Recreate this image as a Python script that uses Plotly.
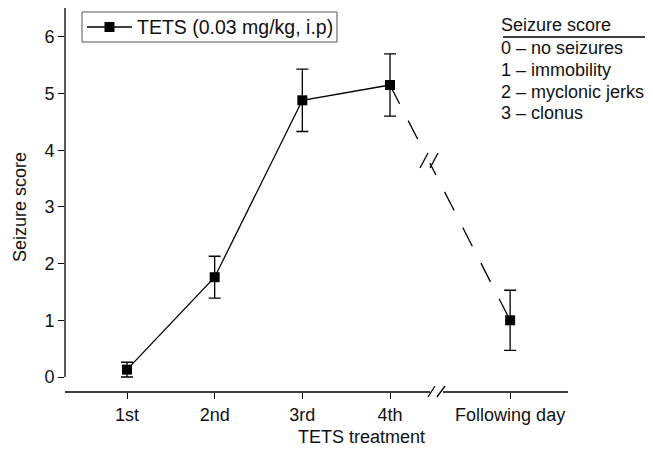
import plotly.graph_objects as go

# ---- data ----
treatments = ["1st", "2nd", "3rd", "4th", "Following day"]
score_mean = [0.13, 1.76, 4.88, 5.15, 1.0]
score_sem = [0.13, 0.37, 0.55, 0.55, 0.53]
y_ticks = [0, 1, 2, 3, 4, 5, 6]
legend_name = "TETS (0.03 mg/kg, i.p)"
score_key_title = "Seizure score"
score_key = ["0 \u2013 no seizures", "1 \u2013 immobility", "2 \u2013 myclonic jerks", "3 \u2013 clonus"]

# ---- layout geometry (all px values below are page pixels; the page body adds an 8px offset) ----
OFF = 8
W, H = 653 - OFF, 453 - OFF
PLOT_L, PLOT_R, PLOT_T, PLOT_B = 65, 568, 8, 392   # page px of the plotting area
ML, MR, MT, MB = PLOT_L - OFF, (W + OFF) - PLOT_R, PLOT_T - OFF, (H + OFF) - PLOT_B
PW, PH = PLOT_R - PLOT_L, PLOT_B - PLOT_T
UX = 87.67   # px per category step
UY = 56.7    # px per score unit
X0_PX, Y0_PX = 127, 377  # page px of first category / score 0
XR = [(PLOT_L - X0_PX) / UX, (PLOT_R - X0_PX) / UX]
YR = [(Y0_PX - PLOT_B) / UY, (Y0_PX - PLOT_T) / UY]
BREAK_GAP = 0.37  # extra spacing after the axis break

xpos = [i + (BREAK_GAP if i == len(treatments) - 1 else 0) for i in range(len(treatments))]

def px2x(px):
    return XR[0] + (px - PLOT_L) / PW * (XR[1] - XR[0])

def py2y(py):
    return YR[0] + (PLOT_B - py) / PH * (YR[1] - YR[0])

def px2paper(px):
    return (px - PLOT_L) / PW

def py2paper(py):
    return (PLOT_B - py) / PH

BLACK = "#000000"
TXT = "#111111"
FONT = "Liberation Sans, Arial, sans-serif"
LW = 1.3

fig = go.Figure()

# dashed segment 4th -> following day
fig.add_trace(go.Scatter(
    x=xpos[3:], y=score_mean[3:], mode="lines",
    line=dict(color=BLACK, width=LW, dash="21px,19px"),
    showlegend=False, hoverinfo="skip"))

# solid series with error bars
fig.add_trace(go.Scatter(
    x=xpos[:4], y=score_mean[:4], mode="lines+markers",
    name=legend_name, showlegend=False,
    line=dict(color=BLACK, width=LW),
    marker=dict(symbol="square", size=10, color=BLACK),
    error_y=dict(type="data", array=score_sem[:4], color=BLACK, thickness=LW, width=6)))

# following day point
fig.add_trace(go.Scatter(
    x=xpos[4:], y=score_mean[4:], mode="markers",
    marker=dict(symbol="square", size=10, color=BLACK),
    error_y=dict(type="data", array=score_sem[4:], color=BLACK, thickness=LW, width=6),
    showlegend=False))

shapes = []
# y axis line (stops at 0)
shapes.append(dict(type="line", xref="paper", yref="y", x0=0, x1=0, y0=0, y1=YR[1],
                   line=dict(color=BLACK, width=LW)))
# x axis line with break
shapes.append(dict(type="line", xref="paper", yref="paper", x0=0, x1=px2paper(430), y0=0, y1=0,
                   line=dict(color=BLACK, width=LW)))
shapes.append(dict(type="line", xref="paper", yref="paper", x0=px2paper(443), x1=1, y0=0, y1=0,
                   line=dict(color=BLACK, width=LW)))
for (ax0, ay0, ax1, ay1) in [(428, 397, 435, 386), (437, 397, 445, 386)]:
    shapes.append(dict(type="line", xref="paper", yref="paper",
                       x0=px2paper(ax0), y0=py2paper(ay0), x1=px2paper(ax1), y1=py2paper(ay1),
                       line=dict(color=BLACK, width=LW)))
# gap in dashed line + break marks
shapes.append(dict(type="line", xref="x", yref="y",
                   x0=px2x(423), y0=py2y(148), x1=px2x(430), y1=py2y(163),
                   line=dict(color="white", width=5)))
for (bx0, by0, bx1, by1) in [(420, 168, 428, 153), (430, 168, 438, 153)]:
    shapes.append(dict(type="line", xref="x", yref="y",
                       x0=px2x(bx0), y0=py2y(by0), x1=px2x(bx1), y1=py2y(by1),
                       line=dict(color=BLACK, width=LW)))
# underline of score key title
shapes.append(dict(type="line", xref="paper", yref="paper",
                   x0=px2paper(503), x1=px2paper(661), y0=py2paper(37), y1=py2paper(37),
                   line=dict(color=BLACK, width=LW)))

# legend (drawn as a boxed key)
shapes.append(dict(type="rect", xref="paper", yref="paper",
                   x0=px2paper(82), x1=px2paper(337), y0=py2paper(42), y1=py2paper(12),
                   line=dict(color="#555555", width=1), fillcolor="white", layer="above"))
shapes.append(dict(type="line", xref="paper", yref="paper",
                   x0=px2paper(87), x1=px2paper(132), y0=py2paper(27), y1=py2paper(27),
                   line=dict(color=BLACK, width=LW)))
shapes.append(dict(type="rect", xref="paper", yref="paper",
                   x0=px2paper(104.5), x1=px2paper(114.5), y0=py2paper(32), y1=py2paper(22),
                   line=dict(color=BLACK, width=0), fillcolor=BLACK))

annotations = []
annotations.append(dict(text=legend_name, xref="paper", yref="paper",
                        x=px2paper(135), y=py2paper(27), showarrow=False,
                        font=dict(family=FONT, size=19.5, color=TXT), xanchor="left", yanchor="middle"))
annotations.append(dict(text="Seizure score", xref="paper", yref="paper",
                        x=px2paper(20), y=py2paper(207), textangle=-90, showarrow=False,
                        font=dict(family=FONT, size=18, color=TXT), xanchor="center", yanchor="middle"))
annotations.append(dict(text="TETS treatment", xref="paper", yref="paper",
                        x=px2paper(361), y=py2paper(437), showarrow=False,
                        font=dict(family=FONT, size=18, color=TXT), xanchor="center", yanchor="middle"))
annotations.append(dict(text=score_key_title, xref="paper", yref="paper",
                        x=px2paper(499), y=py2paper(25), showarrow=False,
                        font=dict(family=FONT, size=18, color=TXT), xanchor="left", yanchor="middle"))
for i, line in enumerate(score_key):
    annotations.append(dict(text=line, xref="paper", yref="paper",
                            x=px2paper(499), y=py2paper(48 + 21.8 * i), showarrow=False,
                            font=dict(family=FONT, size=18, color=TXT), xanchor="left", yanchor="middle"))

fig.update_layout(
    width=W, height=H,
    margin=dict(l=ML, r=MR, t=MT, b=MB, pad=0, autoexpand=False),
    paper_bgcolor="white", plot_bgcolor="white",
    font=dict(family=FONT, size=18, color=TXT),
    showlegend=False,
    xaxis=dict(range=XR, tickvals=xpos, ticktext=treatments, showline=False, showgrid=False,
               zeroline=False, ticks="outside", ticklen=6, tickwidth=LW, tickcolor=BLACK,
               tickfont=dict(family=FONT, size=18, color=TXT)),
    yaxis=dict(range=YR, tickvals=y_ticks, showline=False, showgrid=False, zeroline=False,
               ticks="outside", ticklen=6, tickwidth=LW, tickcolor=BLACK,
               tickfont=dict(family=FONT, size=18, color=TXT)),
    shapes=shapes, annotations=annotations,
)

fig.write_html("out.html")
